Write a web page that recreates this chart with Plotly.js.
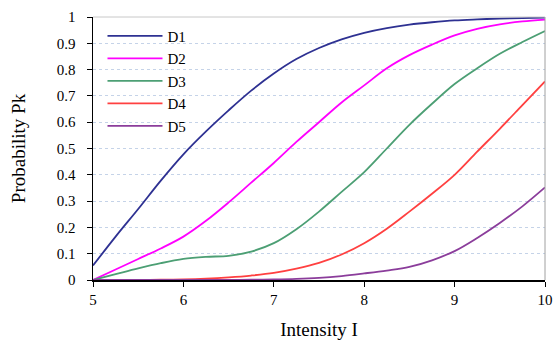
<!DOCTYPE html>
<html>
<head>
<meta charset="utf-8">
<script src="https://cdn.plot.ly/plotly-3.0.1.min.js"></script>
<style>html,body{margin:0;padding:0;background:#fff;}#chart{width:555px;height:342px;}</style>
</head>
<body>
<div id="chart"></div>
<script>
const intensity = [5, 5.25, 5.5, 5.75, 6, 6.25, 6.5, 6.75, 7, 7.25, 7.5, 7.75, 8, 8.25, 8.5, 8.75, 9, 9.25, 9.5, 9.75, 10];
const d1 = [0.055, 0.165, 0.27, 0.378, 0.478, 0.565, 0.645, 0.72, 0.785, 0.84, 0.882, 0.915, 0.94, 0.958, 0.971, 0.98, 0.987, 0.991, 0.994, 0.996, 0.998];
const d2 = [0.0, 0.04, 0.08, 0.12, 0.165, 0.225, 0.295, 0.37, 0.445, 0.525, 0.6, 0.675, 0.74, 0.805, 0.855, 0.895, 0.93, 0.955, 0.972, 0.983, 0.99];
const d3 = [0.0, 0.022, 0.044, 0.064, 0.08, 0.088, 0.092, 0.108, 0.14, 0.193, 0.26, 0.335, 0.41, 0.5, 0.59, 0.67, 0.745, 0.805, 0.86, 0.905, 0.947];
const d4 = [0.0, 0.0, 0.0, 0.001, 0.002, 0.005, 0.01, 0.017, 0.027, 0.043, 0.065, 0.097, 0.14, 0.195, 0.26, 0.328, 0.4, 0.488, 0.575, 0.665, 0.755];
const d5 = [0.0, 0.0, 0.0, 0.0, 0.0, 0.0, 0.0, 0.001, 0.002, 0.004, 0.008, 0.015, 0.025, 0.036, 0.05, 0.075, 0.11, 0.16, 0.217, 0.28, 0.352];
const names = ["D1", "D2", "D3", "D4", "D5"];
const colors = ["#2E3192", "#FF00FF", "#4C9F74", "#FF4040", "#8B3D9B"];
const series = [d1, d2, d3, d4, d5];

const traces = series.map((s, i) => ({
  x: intensity, y: s, name: names[i], type: "scatter", mode: "lines",
  line: {color: colors[i], width: 1.8, shape: "spline", smoothing: 1}
}));

const ff = "Liberation Serif, Times New Roman, serif";
const layout = {
  width: 555, height: 342,
  margin: {l: 93, r: 10, t: 17, b: 62},
  paper_bgcolor: "#fff", plot_bgcolor: "#fff",
  font: {family: ff, color: "#000"},
  showlegend: true,
  legend: {x: 0.021, y: 0.99, xanchor: "left", yanchor: "top", bgcolor: "rgba(0,0,0,0)",
           font: {family: ff, size: 15, color: "#000"}, tracegroupgap: 0, itemwidth: 55},
  xaxis: {range: [5, 10], dtick: 1, tick0: 5, showgrid: false, zeroline: false,
          showline: true, linecolor: "#000", linewidth: 1.5, ticks: "outside", ticklen: 5,
          tickcolor: "#000", tickfont: {family: ff, size: 15, color: "#000"},
          title: {text: "Intensity I", font: {family: ff, size: 19, color: "#000"}, standoff: 16}},
  yaxis: {range: [0, 1], dtick: 0.1, tick0: 0, showgrid: true, gridcolor: "#c5d3e8", griddash: "dot",
          gridwidth: 1, zeroline: false, showline: true, linecolor: "#000", linewidth: 1.5,
          ticks: "outside", ticklen: 5, tickcolor: "#000", ticklabelstandoff: 8,
          tickfont: {family: ff, size: 15, color: "#000"},
          title: {text: "Probability Pk", font: {family: ff, size: 19, color: "#000"}, standoff: 26}},
  shapes: [
    {type: "line", xref: "paper", yref: "paper", x0: 1, x1: 1, y0: 0, y1: 1, line: {color: "#a0a0a0", width: 1}},
    {type: "line", xref: "paper", yref: "paper", x0: 0, x1: 1, y0: 1, y1: 1, line: {color: "#c8c8c8", width: 1}}
  ]
};
Plotly.newPlot("chart", traces, layout, {staticPlot: true});
</script>
</body>
</html>
